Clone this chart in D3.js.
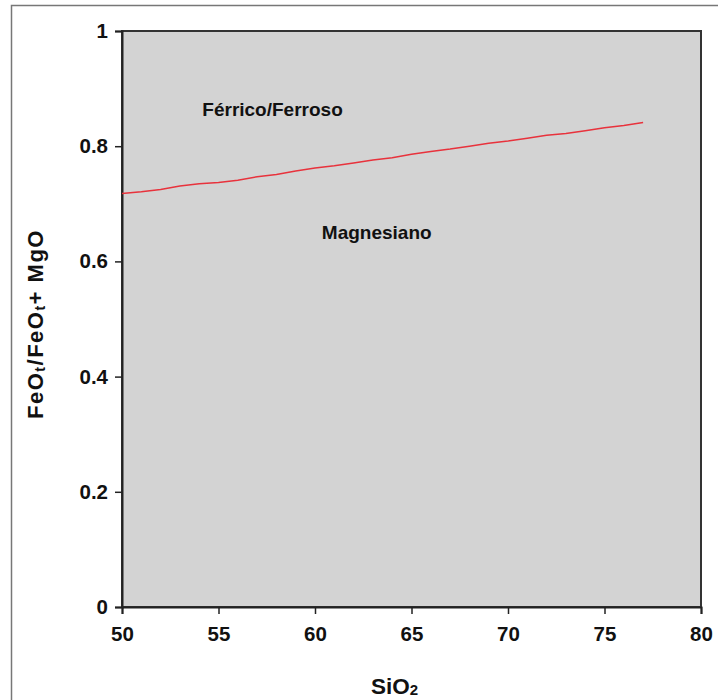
<!DOCTYPE html>
<html><head><meta charset="utf-8">
<script src="https://cdn.jsdelivr.net/npm/d3@7"></script>
<style>body{margin:0;background:#fff;} svg{display:block;font-family:"Liberation Sans",Arial,sans-serif;}</style>
</head><body>
<script>
const sio2 = [50,51,52,53,54,55,56,57,58,59,60,61,62,63,64,65,66,67,68,69,70,71,72,73,74,75,76,77];
const ratio = [0.718,0.721,0.725,0.731,0.735,0.737,0.741,0.747,0.751,0.757,0.762,0.766,0.771,0.776,0.780,0.786,0.791,0.795,0.800,0.805,0.809,0.814,0.819,0.822,0.827,0.832,0.836,0.841];
const xTicks = [50,55,60,65,70,75,80];
const yTicks = [0,0.2,0.4,0.6,0.8,1];
const fieldLabels = [{text:"Férrico/Ferroso", x:57.8, y:0.853},{text:"Magnesiano", x:63.2, y:0.639}];

const W=718,H=700;
const m={l:122,r:17,t:31,b:93};
const FONT="Liberation Sans, Arial, sans-serif";
const svg=d3.select("body").append("svg").attr("width",W).attr("height",H);
svg.append("rect").attr("x",11.5).attr("y",5.5).attr("width",W+10).attr("height",H+10)
  .attr("fill","none").attr("stroke","#777").attr("stroke-width",1.5);
const x=d3.scaleLinear().domain([50,80]).range([m.l,W-m.r]);
const y=d3.scaleLinear().domain([0,1]).range([H-m.b,m.t]);
svg.append("rect").attr("x",x(50)).attr("y",y(1)).attr("width",x(80)-x(50)).attr("height",y(0)-y(1))
  .attr("fill","#d3d3d3").attr("stroke","#333").attr("stroke-width",2);
const xa=svg.append("g").attr("transform",`translate(0,${y(0)})`)
  .call(d3.axisBottom(x).tickValues(xTicks).tickSize(7).tickPadding(12).tickFormat(d3.format("d")));
const ya=svg.append("g").attr("transform",`translate(${x(50)},0)`)
  .call(d3.axisLeft(y).tickValues(yTicks).tickSize(7).tickPadding(7).tickFormat(d=>d===0?"0":d===1?"1":d3.format(".1f")(d)));
[xa,ya].forEach(g=>{g.select(".domain").attr("stroke","#222").attr("stroke-width",2);
  g.selectAll(".tick line").attr("stroke","#222").attr("stroke-width",1.5);
  g.selectAll("text").attr("font-size",20.5).attr("font-weight","bold").attr("fill","#111").attr("font-family",FONT);});

svg.append("path").datum(sio2.map((s,i)=>[s,ratio[i]]))
  .attr("d",d3.line().x(d=>x(d[0])).y(d=>y(d[1])))
  .attr("fill","none").attr("stroke","#e8323c").attr("stroke-width",1.5);

svg.selectAll(".fl").data(fieldLabels).join("text")
  .attr("x",d=>x(d.x)).attr("y",d=>y(d.y)).attr("text-anchor","middle")
  .attr("font-size",19).attr("font-weight","bold").attr("fill","#111").text(d=>d.text);

const xt=svg.append("text").attr("x",371).attr("y",694).attr("text-anchor","start")
  .attr("font-size",22.5).attr("font-weight","bold").attr("fill","#111");
xt.append("tspan").text("SiO");
xt.append("tspan").attr("font-size",15).attr("dy",1).text("2");

const yt=svg.append("text").attr("transform","translate(43,324) rotate(-90)").attr("text-anchor","middle")
  .attr("font-size",22).attr("font-weight","bold").attr("fill","#111").attr("letter-spacing",1.5);
yt.append("tspan").text("FeO");
yt.append("tspan").attr("font-size",14).attr("dy",2).text("t");
yt.append("tspan").attr("dy",-2).text("/FeO");
yt.append("tspan").attr("font-size",14).attr("dy",2).text("t");
yt.append("tspan").attr("dy",-2).text("+ MgO");
</script>
</body></html>
